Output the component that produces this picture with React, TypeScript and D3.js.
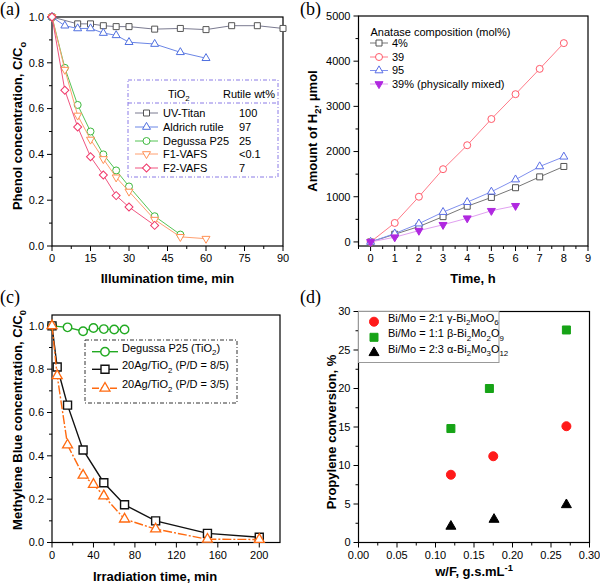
import React from 'react'
import * as d3 from 'd3'

const SANS = "'Liberation Sans', Arial, Helvetica, sans-serif"
const SERIF = "'Liberation Serif', 'Times New Roman', serif"

// (a) phenol concentration vs illumination time
const uvTitanX = [0, 10, 15, 20, 25, 30, 40, 50, 60, 70, 80, 90]
const uvTitanY = [1.0, 0.97, 0.97, 0.962, 0.958, 0.958, 0.947, 0.95, 0.945, 0.962, 0.962, 0.95]
const aldrichX = [0, 5, 10, 15, 20, 25, 30, 40, 50, 60]
const aldrichY = [1.0, 0.962, 0.95, 0.95, 0.93, 0.92, 0.89, 0.882, 0.846, 0.82]
const p25X = [0, 5, 10, 15, 20, 25, 30, 40, 50]
const p25Y = [1.0, 0.778, 0.616, 0.5, 0.4, 0.33, 0.26, 0.13, 0.05]
const f1X = [0, 5, 10, 15, 20, 25, 30, 40, 50, 60]
const f1Y = [1.0, 0.77, 0.57, 0.465, 0.38, 0.3, 0.238, 0.115, 0.04, 0.032]
const f2X = [0, 5, 10, 15, 20, 25, 30, 40]
const f2Y = [1.0, 0.68, 0.52, 0.39, 0.31, 0.22, 0.17, 0.09]
const tio2Names = ['UV-Titan', 'Aldrich rutile', 'Degussa P25', 'F1-VAFS', 'F2-VAFS']
const rutileWt = ['100', '97', '25', '<0.1', '7']
const ticksAx = [0, 15, 30, 45, 60, 75, 90]
const ticksAy = [0, 0.2, 0.4, 0.6, 0.8, 1.0]

// (b) H2 evolution
const hoursB = [0, 1, 2, 3, 4, 5, 6, 7, 8]
const h2Pct4 = [0, 170, 340, 560, 790, 985, 1200, 1440, 1670]
const h2Pct39 = [0, 420, 1000, 1610, 2140, 2720, 3270, 3830, 4400]
const h2Pct95 = [0, 185, 405, 660, 880, 1110, 1380, 1670, 1885]
const hoursMix = [0, 1, 2, 3, 4, 5, 6]
const h2Mix = [0, 105, 250, 380, 525, 690, 800]
const anataseNames = ['4%', '39', '95', '39% (physically mixed)']
const ticksBx = [0, 1, 2, 3, 4, 5, 6, 7, 8, 9]
const ticksBy = [0, 1000, 2000, 3000, 4000, 5000]

// (c) methylene blue
const minP25 = [0, 15, 30, 40, 50, 60, 70]
const mbP25 = [1.0, 0.993, 0.975, 0.99, 0.985, 0.983, 0.983]
const min85 = [0, 5, 15, 30, 50, 70, 100, 150, 200]
const mb85 = [1.0, 0.81, 0.634, 0.427, 0.276, 0.174, 0.1, 0.042, 0.024]
const min35 = [0, 5, 15, 30, 40, 50, 70, 100, 150, 200]
const mb35 = [1.0, 0.77, 0.45, 0.31, 0.268, 0.215, 0.108, 0.062, 0.015, 0.014]
const mbNames = ['Degussa P25 (TiO_{2})', '20Ag/TiO_{2} (P/D = 8/5)', '20Ag/TiO_{2} (P/D = 3/5)']
const ticksCx = [0, 40, 80, 120, 160, 200]
const ticksCy = [0, 0.2, 0.4, 0.6, 0.8, 1.0]

// (d) propylene conversion
const wfRed = [0.12, 0.175, 0.27]
const convRed = [8.8, 11.2, 15.1]
const wfGreen = [0.12, 0.17, 0.27]
const convGreen = [14.8, 20.0, 27.6]
const wfBlack = [0.12, 0.176, 0.27]
const convBlack = [2.1, 3.0, 4.9]
const bimoNames = ['Bi/Mo = 2:1 γ-Bi_{2}MoO_{6}', 'Bi/Mo = 1:1 β-Bi_{2}Mo_{2}O_{9}', 'Bi/Mo = 2:3 α-Bi_{2}Mo_{3}O_{12}']
const ticksDx = [0, 0.05, 0.1, 0.15, 0.2, 0.25, 0.3]
const ticksDy = [0, 5, 10, 15, 20, 25, 30]

// text with _{sub} and ^{sup}
const rich = (s: string, fs: number) => {
  const out: any[] = []
  const re = /([_^])\{([^}]*)\}/g
  let last = 0, shift = 0, m: any, k = 0
  while ((m = re.exec(s))) {
    if (m.index > last) {
      out.push(<tspan key={k++} dy={-shift} fontSize={fs}>{s.slice(last, m.index)}</tspan>)
      shift = 0
    }
    const d = m[1] === '_' ? fs * 0.3 : -fs * 0.4
    out.push(<tspan key={k++} dy={d - shift} fontSize={fs * 0.72}>{m[2]}</tspan>)
    shift = d
    last = re.lastIndex
  }
  if (last < s.length) out.push(<tspan key={k++} dy={-shift} fontSize={fs}>{s.slice(last)}</tspan>)
  return out
}

const symPath = (shape: string, w: number) => {
  if (shape === 'circle') return d3.symbol(d3.symbolCircle, Math.PI * (w / 2) ** 2)()
  if (shape === 'square') return d3.symbol(d3.symbolSquare, w * w)()
  if (shape === 'diamond') return d3.symbol(d3.symbolSquare, (w * w) / 2)()
  return d3.symbol(d3.symbolTriangle, (w * w * Math.sqrt(3)) / 4)()
}

const Marker = ({ s, x, y }: any) => {
  const rot = s.shape === 'down' ? 180 : s.shape === 'diamond' ? 45 : 0
  return (
    <path
      d={symPath(s.shape, s.size) as string}
      transform={`translate(${x},${y}) rotate(${rot})`}
      fill={s.fill || 'white'}
      stroke={s.stroke}
      strokeWidth={s.sw || 1}
    />
  )
}

const Series = ({ s, x, y }: any) => {
  const pts = s.x.map((v: number, i: number) => [x(v), y(s.y[i])])
  const line = d3.line()
  return (
    <g>
      {s.line && (
        <path d={line(pts) as string} fill="none" stroke={s.line} strokeWidth={s.lw || 1} strokeDasharray={s.dash} />
      )}
      {pts.map((p: number[], i: number) => <Marker key={i} s={s} x={p[0]} y={p[1]} />)}
    </g>
  )
}

const Axes = ({ x, y, xt, yt, xf, yf, xMinorOut }: any) => {
  const [x0, x1] = x.range()
  const [y0, y1] = y.range()
  const xMinor = d3.pairs(xt).map(([a, b]: any) => (a + b) / 2).concat(xMinorOut || [])
  const yMinor = d3.pairs(yt).map(([a, b]: any) => (a + b) / 2)
  return (
    <g fontFamily={SANS} fontSize={11}>
      <rect x={x0} y={y1} width={x1 - x0} height={y0 - y1} fill="none" stroke="black" strokeWidth={1.2} />
      {xt.map((t: number) => (
        <g key={'x' + t}>
          <line x1={x(t)} x2={x(t)} y1={y0} y2={y0 + 5} stroke="black" />
          <text x={x(t)} y={y0 + 16} textAnchor="middle">{xf(t)}</text>
        </g>
      ))}
      {xMinor.map((t: number) => (
        <line key={'xm' + t} x1={x(t)} x2={x(t)} y1={y0} y2={y0 + 3} stroke="black" />
      ))}
      {yt.map((t: number) => (
        <g key={'y' + t}>
          <line x1={x0 - 5} x2={x0} y1={y(t)} y2={y(t)} stroke="black" />
          <text x={x0 - 8} y={y(t)} dy="0.35em" textAnchor="end">{yf(t)}</text>
        </g>
      ))}
      {yMinor.map((t: number) => (
        <line key={'ym' + t} x1={x0 - 3} x2={x0} y1={y(t)} y2={y(t)} stroke="black" />
      ))}
    </g>
  )
}

const AxisTitle = ({ x, y, rotate, children }: any) => (
  <text
    x={x}
    y={y}
    textAnchor="middle"
    fontFamily={SANS}
    fontWeight="bold"
    fontSize={13}
    transform={rotate ? `rotate(-90,${x},${y})` : undefined}
  >
    {children}
  </text>
)

const PanelTag = ({ x, y, t }: any) => (
  <text x={x} y={y} fontFamily={SERIF} fontSize={18}>{t}</text>
)

const App = () => {
  // ---- (a)
  const xA = d3.scaleLinear().domain([0, 90]).range([52, 283])
  const yA = d3.scaleLinear().domain([0, 1]).range([246, 17])
  const seriesA = [
    { x: uvTitanX, y: uvTitanY, shape: 'square', size: 6, stroke: '#555', line: '#7a7a90' },
    { x: aldrichX, y: aldrichY, shape: 'triangle', size: 8, stroke: '#5070e0', line: '#6b86e6' },
    { x: p25X, y: p25Y, shape: 'circle', size: 7, stroke: '#3cb93c', line: '#55c455' },
    { x: f1X, y: f1Y, shape: 'down', size: 8, stroke: '#ff9155', line: '#ffa070' },
    { x: f2X, y: f2Y, shape: 'diamond', size: 8, stroke: '#f0386a', line: '#f05580' },
  ]
  const rowsA = [113, 127, 141, 154, 168]

  // ---- (b)
  const xB = d3.scaleLinear().domain([-0.5, 9]).range([358.5, 588])
  const yB = d3.scaleLinear().domain([-90, 5000]).range([246, 16])
  const seriesB = [
    { x: hoursB, y: h2Pct4, shape: 'square', size: 6, stroke: '#555', line: '#777' },
    { x: hoursB, y: h2Pct39, shape: 'circle', size: 7, stroke: '#ff5a6a', line: '#ff7a88' },
    { x: hoursB, y: h2Pct95, shape: 'triangle', size: 8, stroke: '#5a6ee6', line: '#8090ee' },
    { x: hoursMix, y: h2Mix, shape: 'down', size: 8, stroke: '#b028e0', fill: '#b028e0', line: '#e0a0f0' },
  ]
  const rowsB = [43, 57, 70.5, 84]

  // ---- (c)
  const xC = d3.scaleLinear().domain([0, 220]).range([52, 280])
  const yC = d3.scaleLinear().domain([0, 1.05]).range([542.5, 315])
  const seriesC = [
    { x: minP25, y: mbP25, shape: 'circle', size: 8.5, stroke: '#22aa22', line: '#22aa22', sw: 1.4, lw: 1.4 },
    { x: min85, y: mb85, shape: 'square', size: 8, stroke: '#111', line: '#111', sw: 1.4, lw: 1.4 },
    { x: min35, y: mb35, shape: 'triangle', size: 10, stroke: '#ff6a10', line: '#ff6a10', sw: 1.3, lw: 1.4, dash: '9,2,2,2' },
  ]
  const rowsC = [351.7, 369.3, 388.3]

  // ---- (d)
  const xD = d3.scaleLinear().domain([0, 0.3]).range([358.5, 589.5])
  const yD = d3.scaleLinear().domain([0, 30]).range([542.5, 311.5])
  const seriesD = [
    { x: wfRed, y: convRed, shape: 'circle', size: 9, stroke: '#ff1a1a', fill: '#ff1a1a', sw: 0 },
    { x: wfGreen, y: convGreen, shape: 'square', size: 8, stroke: '#16a316', fill: '#16a316', sw: 0 },
    { x: wfBlack, y: convBlack, shape: 'triangle', size: 10, stroke: '#000', fill: '#000', sw: 0 },
  ]
  const rowsD = [321.7, 337.3, 352.7]

  return (
    <svg width={600} height={585} style={{ display: 'block', position: 'absolute', left: 0, top: 0 }}>
      <rect width={600} height={585} fill="white" />

      {/* (a) */}
      <PanelTag x={0} y={15} t="(a)" />
      <Axes x={xA} y={yA} xt={ticksAx} yt={ticksAy} xf={d3.format('d')} yf={d3.format('.1f')} />
      {seriesA.map((s, i) => <Series key={i} s={s} x={xA} y={yA} />)}
      <g fontFamily={SANS} fontSize={11}>
        <rect x={128} y={80} width={150} height={97} fill="white" stroke="#8a7ae6" strokeDasharray="4,2,1,2" />
        <line x1={128} x2={278} y1={103} y2={103} stroke="#8a7ae6" strokeDasharray="4,2,1,2" />
        <text x={168} y={98}>{rich('TiO_{2}', 11)}</text>
        <text x={223} y={98}>Rutile wt%</text>
        {seriesA.map((s, i) => (
          <g key={i}>
            <line x1={135} x2={158} y1={rowsA[i]} y2={rowsA[i]} stroke={s.line} />
            <Marker s={s} x={146.5} y={rowsA[i]} />
            <text x={163} y={rowsA[i]} dy="0.35em">{tio2Names[i]}</text>
            <text x={239} y={rowsA[i]} dy="0.35em">{rutileWt[i]}</text>
          </g>
        ))}
      </g>
      <AxisTitle x={167.5} y={283}>Illumination time, min</AxisTitle>
      <AxisTitle x={22} y={126} rotate>{rich('Phenol concentration, C/C_{o}', 13)}</AxisTitle>

      {/* (b) */}
      <PanelTag x={300} y={15} t="(b)" />
      <Axes x={xB} y={yB} xt={ticksBx} yt={ticksBy} xf={d3.format('d')} yf={d3.format('d')} xMinorOut={[-0.5]} />
      {seriesB.map((s, i) => <Series key={i} s={s} x={xB} y={yB} />)}
      <g fontFamily={SANS} fontSize={11}>
        <text x={370.5} y={36}>Anatase composition (mol%)</text>
        {seriesB.map((s, i) => (
          <g key={i}>
            <line x1={370} x2={388} y1={rowsB[i]} y2={rowsB[i]} stroke={s.line} />
            <Marker s={s} x={379} y={rowsB[i]} />
            <text x={392} y={rowsB[i]} dy="0.35em">{anataseNames[i]}</text>
          </g>
        ))}
      </g>
      <AxisTitle x={473} y={283}>Time, h</AxisTitle>
      <AxisTitle x={317} y={131} rotate>{rich('Amount of H_{2}, μmol', 13)}</AxisTitle>

      {/* (c) */}
      <PanelTag x={0} y={303} t="(c)" />
      <Axes x={xC} y={yC} xt={ticksCx} yt={ticksCy} xf={d3.format('d')} yf={d3.format('.1f')} />
      {seriesC.map((s, i) => <Series key={i} s={s} x={xC} y={yC} />)}
      <g fontFamily={SANS} fontSize={11}>
        <rect x={85} y={340} width={152} height={63} fill="white" stroke="#333" strokeDasharray="4,2,1,2" />
        {seriesC.map((s, i) => (
          <g key={i}>
            <line x1={92} x2={118} y1={rowsC[i]} y2={rowsC[i]} stroke={s.line} strokeWidth={1.4} strokeDasharray={s.dash ? '7,2' : undefined} />
            <Marker s={s} x={105} y={rowsC[i]} />
            <text x={122} y={rowsC[i]} dy="0.35em">{rich(mbNames[i], 11)}</text>
          </g>
        ))}
      </g>
      <AxisTitle x={155} y={581}>Irradiation time, min</AxisTitle>
      <AxisTitle x={22} y={420} rotate>{rich('Methylene Blue concentration, C/C_{0}', 13)}</AxisTitle>

      {/* (d) */}
      <PanelTag x={300} y={303} t="(d)" />
      <Axes x={xD} y={yD} xt={ticksDx} yt={ticksDy} xf={d3.format('.2f')} yf={d3.format('d')} />
      {seriesD.map((s, i) => <Series key={i} s={s} x={xD} y={yD} />)}
      <g fontFamily={SANS} fontSize={11}>
        <rect x={358.5} y={311.5} width={140.5} height={51} fill="white" stroke="#999" />
        {seriesD.map((s, i) => (
          <g key={i}>
            <Marker s={s} x={374} y={rowsD[i]} />
            <text x={388} y={rowsD[i]} dy="0.35em">{rich(bimoNames[i], 11)}</text>
          </g>
        ))}
      </g>
      <AxisTitle x={474} y={576}>{rich('w/F, g.s.mL^{-1}', 13)}</AxisTitle>
      <AxisTitle x={336} y={432} rotate>Propylene conversion, %</AxisTitle>
    </svg>
  )
}

export default App
